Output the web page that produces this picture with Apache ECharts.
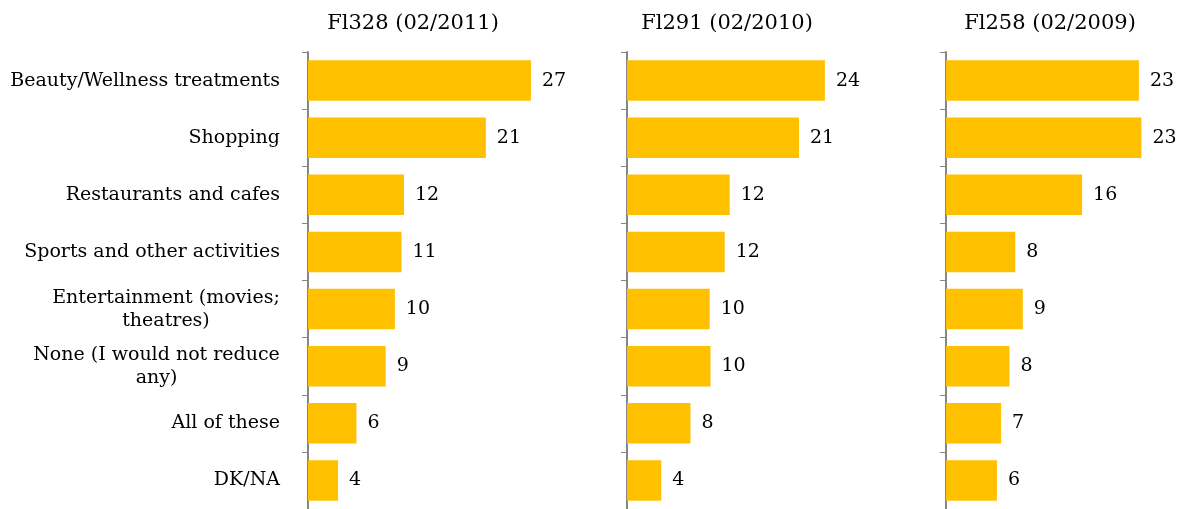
<!DOCTYPE html>
<html>
<head>
<meta charset="utf-8">
<script src="https://cdn.jsdelivr.net/npm/echarts@6/dist/echarts.min.js"></script>
<style>
  html, body { margin: 0; padding: 0; background: #fff; }
  #chart { width: 1181px; height: 509px; }
</style>
</head>
<body>
<div id="chart"></div>
<script>
// categories (top to bottom)
const categories = [
  'Beauty/Wellness treatments',
  'Shopping',
  'Restaurants and cafes',
  'Sports and other activities',
  'Entertainment (movies;\ntheatres)',
  'None (I would not reduce\nany)',
  'All of these',
  'DK/NA'
]

const panelTitles = ['Fl328 (02/2011)', 'Fl291 (02/2010)', 'Fl258 (02/2009)']

// bar lengths, labels show the rounded value
const fl328 = [26.7, 21.3, 11.5, 11.2, 10.4, 9.3, 5.8, 3.6]
const fl291 = [23.7, 20.6, 12.3, 11.7, 9.9, 10.0, 7.6, 4.1]
const fl258 = [23.1, 23.4, 16.3, 8.3, 9.2, 7.6, 6.6, 6.1]

const seriesData = [fl328, fl291, fl258]

const FONT = 'DejaVu Serif'
const LABEL_SIZE = 19
const gridLefts = [308, 627, 946]
const titleCenters = [408, 722, 1045]

// width of the widest line, so two-line labels can be centred inside it
const measure = (txt, size) => {
  const ctx = document.createElement('canvas').getContext('2d')
  ctx.font = size + 'px "' + FONT + '"'
  return Math.ceil(ctx.measureText(txt).width)
}

const labelFormatter = (val) => {
  if (val.indexOf('\n') < 0) return val
  const w = Math.max(...val.split('\n').map((l) => measure(l, LABEL_SIZE)))
  return val.split('\n').map((l) => '{c' + w + '|' + l + '}').join('\n')
}

const rich = {}
categories.forEach((c) => {
  if (c.indexOf('\n') >= 0) {
    const w = Math.max(...c.split('\n').map((l) => measure(l, LABEL_SIZE)))
    rich['c' + w] = { width: w, align: 'center', fontFamily: FONT, fontSize: LABEL_SIZE, color: '#000', lineHeight: 23 }
  }
})

const chart = echarts.init(document.getElementById('chart'))

const option = {
  animation: false,
  title: panelTitles.map((t, i) => ({
    text: t,
    left: titleCenters[i],
    top: 8,
    textAlign: 'center',
    textStyle: { fontFamily: FONT, fontSize: 21, fontWeight: 'normal', color: '#000' }
  })),
  grid: gridLefts.map((l) => ({ left: l, top: 52, width: 233.8, height: 458 })),
  xAxis: gridLefts.map((l, i) => ({
    type: 'value',
    gridIndex: i,
    min: 0,
    max: 28,
    show: false,
    splitLine: { show: false }
  })),
  yAxis: gridLefts.map((l, i) => ({
    type: 'category',
    gridIndex: i,
    inverse: true,
    data: categories,
    axisLine: { show: true, lineStyle: { color: '#868686', width: 2 } },
    axisTick: { show: true, length: 6, lineStyle: { color: '#868686', width: 1 } },
    axisLabel: {
      show: i === 0,
      margin: 28,
      fontFamily: FONT,
      fontSize: LABEL_SIZE,
      color: '#000',
      lineHeight: 23,
      formatter: labelFormatter,
      rich: rich
    }
  })),
  series: seriesData.map((d, i) => ({
    type: 'bar',
    xAxisIndex: i,
    yAxisIndex: i,
    data: d,
    barCategoryGap: '29%',
    itemStyle: { color: '#FFC000' },
    label: {
      show: true,
      position: 'right',
      distance: 11,
      fontFamily: FONT,
      fontSize: LABEL_SIZE,
      color: '#000',
      formatter: (p) => Math.round(p.value)
    }
  }))
}

chart.setOption(option)
</script>
</body>
</html>
